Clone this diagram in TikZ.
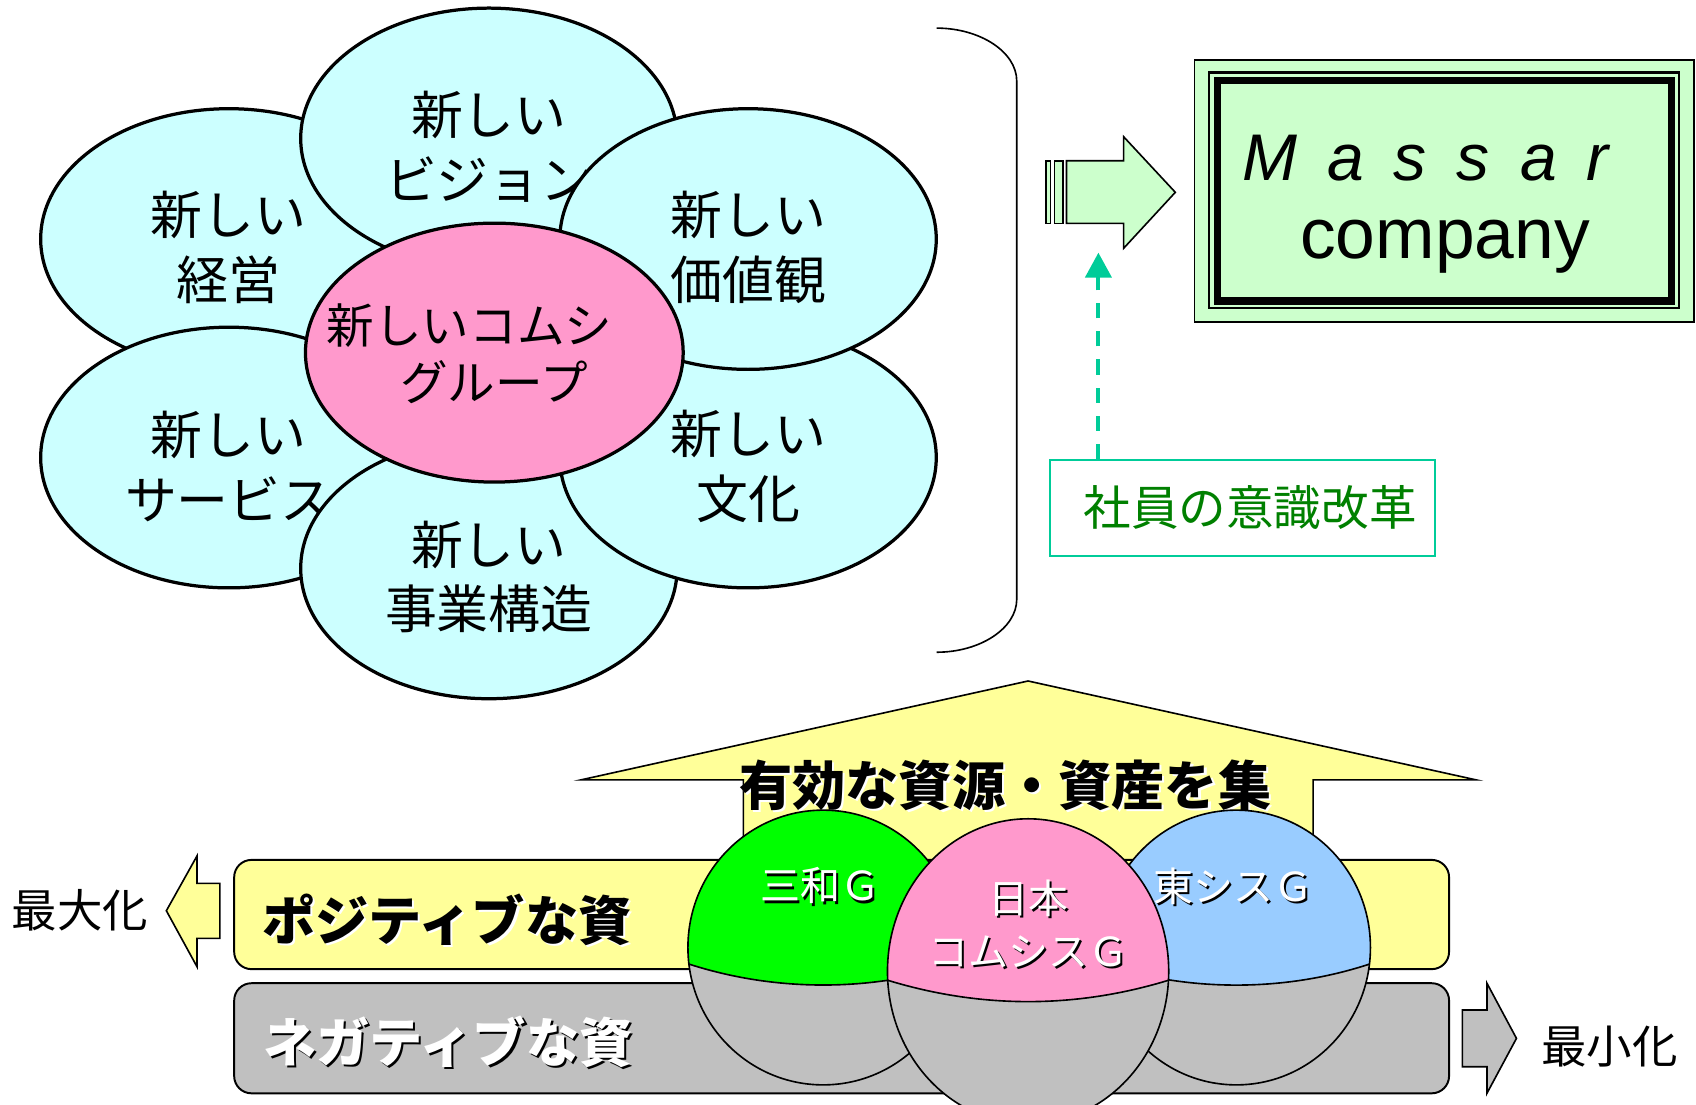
\documentclass[tikz,border=0pt]{standalone}
\usepackage{fontspec}
\setmainfont{Liberation Sans}
\newfontfamily\jp{Noto Sans CJK JP}
\newfontfamily\lib{Liberation Sans}
\usetikzlibrary{arrows.meta,shapes.geometric}
\definecolor{cyanf}{HTML}{CCFFFF}
\definecolor{pinkf}{HTML}{FF99CC}
\definecolor{lgreen}{HTML}{CCFFCC}
\definecolor{yelf}{HTML}{FFFF99}
\definecolor{grayf}{HTML}{C0C0C0}
\definecolor{greenball}{HTML}{00FF00}
\definecolor{blueball}{HTML}{99CCFF}
\definecolor{tealc}{HTML}{00CC99}
\definecolor{dkgreen}{HTML}{008000}
\newcommand\shtext[3]{{\leavevmode\rlap{\kern1pt\raisebox{-1pt}{\color{#1}#3}}\color{#2}#3}}
\newcommand\tstrut{\rule{0pt}{28pt}}
\tikzset{
  petal/.style={ellipse, draw, fill=cyanf, line width=1.5pt, minimum width=174pt, minimum height=120.5pt, inner sep=0pt, align=center, font=\jp\fontsize{24pt}{30pt}\selectfont},
  core/.style={ellipse, draw, fill=pinkf, line width=1.5pt, minimum width=174.6pt, minimum height=119.7pt, inner sep=0pt},
  thinl/.style={draw=black, line width=0.75pt},
  band/.style={draw=black, line width=0.9pt, rounded corners=8pt, minimum width=561.6pt, inner sep=0pt},
  bigjp/.style={font=\jp\bfseries\fontsize{24.6pt}{30pt}\selectfont, inner sep=0pt},
  balltext/.style={font=\jp\fontsize{18.5pt}{24.5pt}\selectfont, inner sep=0pt, align=center},
  sidelabel/.style={font=\jp\fontsize{21pt}{26pt}\selectfont, inner sep=0pt},
}
\begin{document}
\begin{tikzpicture}[x=0.5pt,y=-0.5pt]
\useasboundingbox (0,0) rectangle (1568,1021);
\fill[white] (0,0) rectangle (1568,1021);

% ---- flower ----
\node[petal] (keiei) at (211.6,221) {\tstrut 新しい\\経営};
\node[petal] (vision) at (452,128) {\tstrut 新しい\\ビジョン};
\node[petal] (service) at (211.6,423) {\tstrut 新しい\\サービス};
\node[petal] (jigyo) at (452,525.5) {\tstrut 新しい\\事業構造};
\node[petal] (bunka) at (691.6,423) {\tstrut 新しい\\文化};
\node[petal] (kachi) at (691.6,221) {\tstrut 新しい\\価値観};
\node[core] (core) at (457,326) {};
\node[font=\jp\fontsize{22pt}{26pt}\selectfont, align=left, inner sep=0pt] (coretext) at (434,327) {新しいコムシ\\\hspace*{34pt}グループ};

% ---- bracket ----
\draw[thinl] (866,26) .. controls (906,26) and (940,48) .. (940,75) -- (940,554) .. controls (940,581) and (906,603) .. (866,603);

% ---- block arrow to Massar ----
\draw[thinl, fill=lgreen] (967.2,148.6) rectangle (971.1,206.5);
\draw[thinl, fill=lgreen] (975,148.6) rectangle (982.9,206.5);
\draw[thinl, fill=lgreen] (986,148.6) -- (1038.8,148.6) -- (1038.8,126.4) -- (1086.6,177.8) -- (1038.8,229.6) -- (1038.8,206.5) -- (986,206.5) -- cycle;

% ---- Massar box ----
\node[draw=black, line width=0.8pt, fill=lgreen, minimum width=230.75pt, minimum height=120.95pt, inner sep=0pt] (massar) at (1335.05,176.45) {};
\draw[line width=1.1pt] (1118,67.2) rectangle (1552.4,285);
\draw[line width=3.5pt] (1125.5,74.3) rectangle (1545.4,278.5);
\node[anchor=base west, inner sep=0pt, font=\lib\itshape\fontsize{30.5pt}{36pt}\selectfont] (massarname) at (1148,166.5) {M\hspace{13.9pt}a\hspace{13.9pt}s\hspace{13.9pt}s\hspace{13.9pt}a\hspace{13.9pt}r};
\node[anchor=base west, inner sep=0pt, font=\lib\fontsize{33pt}{38pt}\selectfont] (company) at (1201.7,238.8) {company};

% ---- awareness box and dashed arrow ----
\node[draw=tealc, line width=0.9pt, minimum width=178pt, minimum height=44.35pt, inner sep=0pt, text=dkgreen, font=\jp\fontsize{22pt}{26pt}\selectfont] (ishiki) at (1148.8,469.6) {\hspace*{7pt}社員の意識改革};
\coordinate (dtip) at (1015.5,233.6);
\draw[tealc, line width=1.85pt, dash pattern=on 7pt off 6pt, -{Triangle[width=12pt,length=11.5pt]}] (dtip |- ishiki.north) -- (dtip);

% ---- house arrow ----
\draw[thinl, fill=yelf] (950.5,629.6) -- (1364.6,721) -- (1214,721) -- (1214,830) -- (687.3,830) -- (687.3,721) -- (537.2,721) -- cycle;
\node[bigjp, anchor=west] (housetext) at (683,727) {\shtext{white}{black}{有効な資源・資産を集}};

% ---- bands ----
\node[band, fill=yelf, minimum height=50.5pt] (posband) at (778.1,845.5) {};
\node[band, fill=grayf, minimum height=50.9pt] (negband) at (778.1,959.9) {};
\node[bigjp, anchor=west] (postext) at (242,851) {\shtext{white}{black}{ポジティブな資}};
\node[bigjp, anchor=west] (negtext) at (243,964) {\shtext{black}{white}{ネガティブな資}};

% ---- side arrows ----
\draw[thinl, fill=yelf] (153.8,842) -- (182.1,791.4) -- (182.1,816.7) -- (203.3,816.7) -- (203.3,867.5) -- (182.1,867.5) -- (182.1,893.7) -- cycle;
\node[sidelabel] (maxlabel) at (74,842) {最大化};
\draw[thinl, fill=grayf] (1352,933.8) -- (1374.7,933.8) -- (1374.7,909) -- (1402,960) -- (1374.7,1010.8) -- (1374.7,986.2) -- (1352,986.2) -- cycle;
\node[sidelabel] (minlabel) at (1488,968) {最小化};

% ---- balls ----
% green
\begin{scope}
\clip (761,876) ellipse [x radius=125, y radius=127];
\fill[grayf] (761,876) ellipse [x radius=125, y radius=127];
\fill[greenball] (630,740) -- (630,889) .. controls (714,917.9) and (808,917.9) .. (892,889) -- (892,740) -- cycle;
\draw[thinl] (630,889) .. controls (714,917.9) and (808,917.9) .. (892,889);
\end{scope}
\draw[thinl] (761,876) ellipse [x radius=125, y radius=127];
\node[balltext] (sanwa) at (758.5,820) {\shtext{black}{white}{三和Ｇ}};
% blue
\begin{scope}
\clip (1143,876) ellipse [x radius=124, y radius=127];
\fill[grayf] (1143,876) ellipse [x radius=124, y radius=127];
\fill[blueball] (1013,740) -- (1013,889) .. controls (1096,918) and (1190,918) .. (1273,889) -- (1273,740) -- cycle;
\draw[thinl] (1013,889) .. controls (1096,918) and (1190,918) .. (1273,889);
\end{scope}
\draw[thinl] (1143,876) ellipse [x radius=124, y radius=127];
\node[balltext] (toshis) at (1140,820) {\shtext{black}{white}{東シスＧ}};
% pink
\begin{scope}
\clip (950.5,898) ellipse [x radius=130, y radius=141];
\fill[grayf] (950.5,898) ellipse [x radius=130, y radius=141];
\fill[pinkf] (815,750) -- (815,904.5) .. controls (905,933.2) and (996,933.2) .. (1086,904.5) -- (1086,750) -- cycle;
\draw[thinl] (815,904.5) .. controls (905,933.2) and (996,933.2) .. (1086,904.5);
\end{scope}
\draw[thinl] (950.5,898) ellipse [x radius=130, y radius=141];
\node[balltext] (nihon) at (951,855) {\shtext{black}{white}{日本}\\\shtext{black}{white}{コムシスＧ}};
\end{tikzpicture}
\end{document}
